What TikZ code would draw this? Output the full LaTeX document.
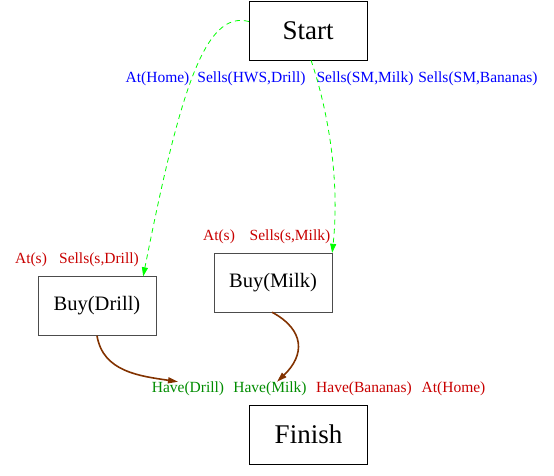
\documentclass[tikz,border=0pt]{standalone}
\usepackage{fontspec}
\setmainfont{Liberation Serif}
\usetikzlibrary{arrows.meta}
\definecolor{precblue}{RGB}{0,0,255}
\definecolor{precred}{RGB}{200,0,0}
\definecolor{precgreen}{RGB}{0,140,0}
\definecolor{linkgreen}{RGB}{0,255,0}
\definecolor{linkbrown}{RGB}{130,50,0}
\begin{document}
\begin{tikzpicture}
[x=1pt,y=-1pt,
  bigbox/.style={shape=rectangle,draw,thin,minimum width=118pt,minimum height=59pt,font=\fontsize{27}{30}\selectfont},%
  actbox/.style={shape=rectangle,draw=black!70,thin,minimum width=118pt,minimum height=59pt,font=\fontsize{20.5}{22}\selectfont},%
  cond/.style={inner sep=0pt,font=\fontsize{15.5}{17}\selectfont},%
  effect/.style={cond,text=precblue},%
  open/.style={cond,text=precred},%
  done/.style={cond,text=precgreen},%
  causal/.style={-{Triangle[length=9pt,width=6pt]},linkgreen,dash pattern=on 5pt off 4pt,line width=0.8pt},%
  order/.style={-{Triangle[length=10pt,width=6pt]},linkbrown,line width=1.6pt}]
\useasboundingbox (0,0) rectangle (554,476);
%%% steps
% boxes
\node (start) at (308,30.5) [bigbox] {Start};
\node (buydrill) at (97,306) [actbox] {Buy(Drill)};
\node (buymilk) at (273,282.5) [actbox] {Buy(Milk)};
\node (finish) at (308.5,434.5) [bigbox] {Finish};
%
%%% conditions
% effects of start
\node (athomeA) at (157.5,79) [effect] {At(Home)};
\node (sellshws) at (251.5,79) [effect] {Sells(HWS,Drill)};
\node (sellsmilk) at (365,79) [effect] {Sells(SM,Milk)};
\node (sellsban) at (478,79) [effect] {Sells(SM,Bananas)};
% preconditions of the buy steps
\node (atsA) at (31,260) [open] {At(s)};
\node (sellsdrill) at (99,260) [open] {Sells(s,Drill)};
\node (atsB) at (219,236.5) [open] {At(s)};
\node (sellssmilk) at (290,236.5) [open] {Sells(s,Milk)};
% goals of finish
\node (havedrill) at (188,389) [done] {Have(Drill)};
\node (havemilk) at (270,389) [done] {Have(Milk)};
\node (haveban) at (364,389) [open] {Have(Bananas)};
\node (athomeB) at (453.5,389) [open] {At(Home)};
%
%%% links
% causal links
\draw[causal] ([yshift=9pt]start.west) .. controls (205,10) and (180,90) .. ([xshift=-13pt]buydrill.north east);
\draw[causal] ([xshift=3pt]start.south) .. controls (328,110) and (340,180) .. (buymilk.north east);
% ordering links
\draw[order] (buydrill.south) .. controls (103,372) and (140,376) .. ([xshift=-10pt]havedrill.north);
\draw[order] ([xshift=-1pt]buymilk.south) .. controls (305,330) and (305,355) .. ([xshift=7pt]havemilk.north);
\end{tikzpicture}
\end{document}
